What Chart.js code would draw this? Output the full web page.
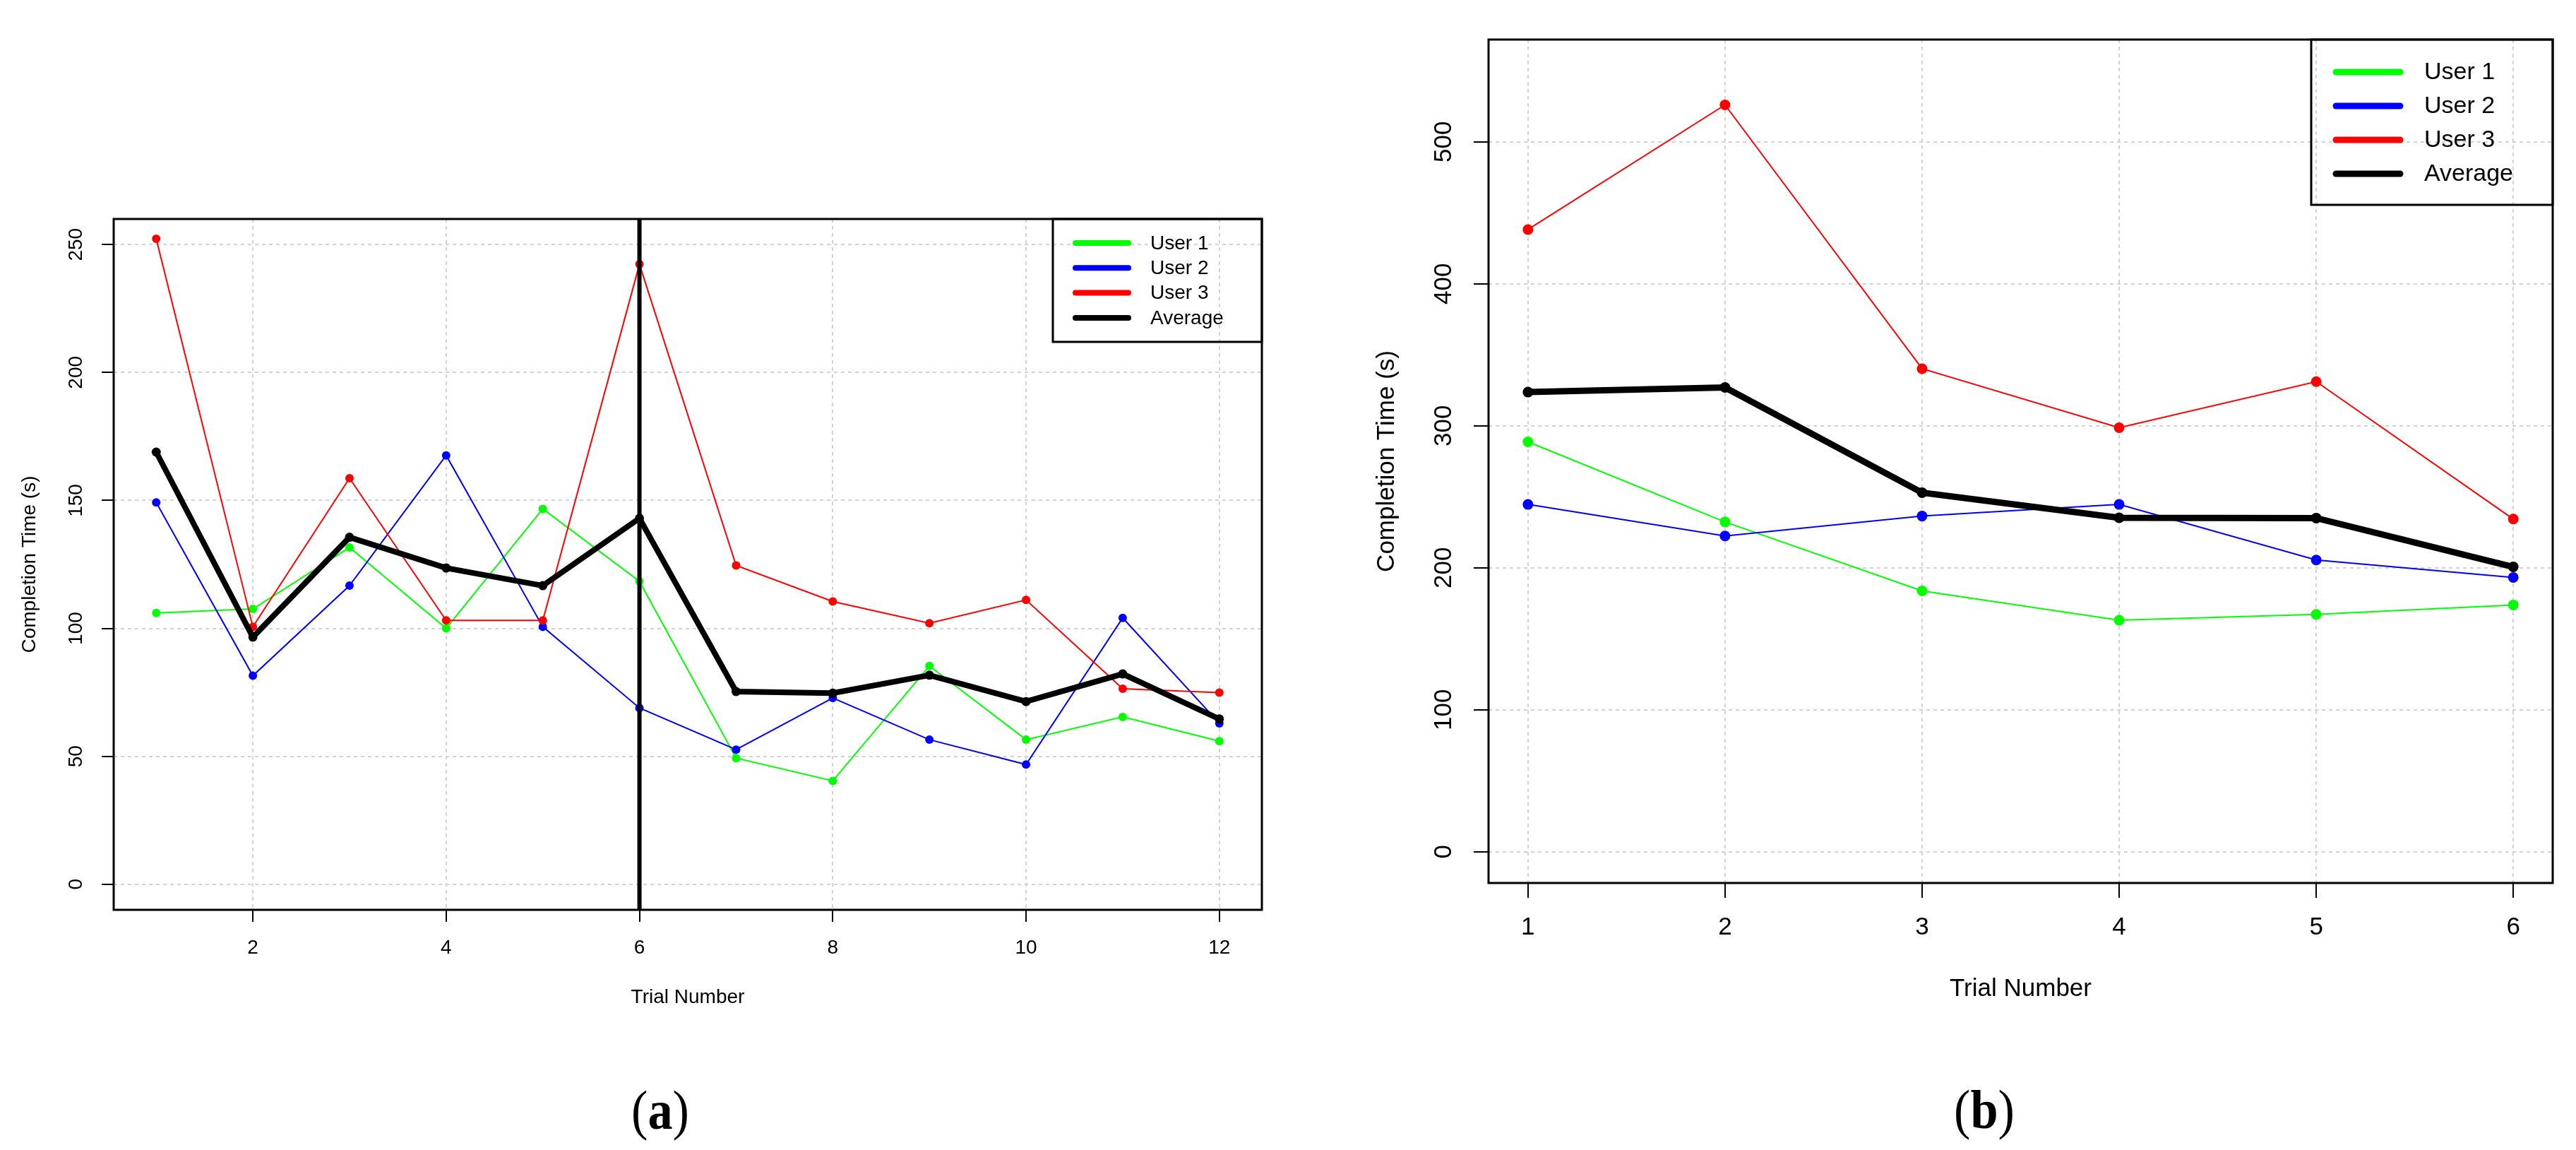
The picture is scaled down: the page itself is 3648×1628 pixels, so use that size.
<!DOCTYPE html>
<html>
<head>
<meta charset="utf-8">
<script src="https://cdn.jsdelivr.net/npm/chart.js@4.4.0/dist/chart.umd.min.js"></script>
<style>
  html, body { margin: 0; padding: 0; background: #fff; }
  #page { position: relative; width: 3648px; height: 1628px; overflow: hidden; background: #fff; }
  canvas { position: absolute; top: 0; }
  .cap { position: absolute; width: 300px; text-align: center; font-family: "Liberation Serif", "Times New Roman", serif;
         font-size: 78px; line-height: 78px; color: #000; transform: scaleX(0.9); }
  .cap b { font-weight: bold; }
</style>
</head>
<body>
<div id="page">
  <canvas id="chartA" width="1840" height="1628" style="left:0px"></canvas>
  <canvas id="chartB" width="1808" height="1628" style="left:1840px"></canvas>
  <div class="cap" style="left:785px; top:1533px">(<b>a</b>)</div>
  <div class="cap" style="left:2660px; top:1532px">(<b>b</b>)</div>
</div>
<script>
// ---- data, chart (a) ----
const trialsA = [1, 2, 3, 4, 5, 6, 7, 8, 9, 10, 11, 12];
const user1A = [106, 107.6, 131.6, 100, 146.7, 118.4, 49.3, 40.4, 85.3, 56.5, 65.4, 55.9];
const user2A = [149.2, 81.5, 116.7, 167.6, 100.6, 68.9, 52.6, 72.8, 56.5, 46.8, 104.1, 62.9];
const user3A = [252.3, 100.6, 158.7, 103.1, 103.1, 242.3, 124.6, 110.5, 102, 111.1, 76.4, 74.9];
const avgA = [168.9, 96.6, 135.6, 123.6, 116.7, 143, 75.3, 74.7, 81.7, 71.4, 82.2, 64.6];
const xTicksA = [2, 4, 6, 8, 10, 12];
const yTicksA = [0, 50, 100, 150, 200, 250];
const xRangeA = [0.56, 12.44];
const yRangeA = [-10, 260];
const markerTrialA = 6;

// ---- data, chart (b) ----
const trialsB = [1, 2, 3, 4, 5, 6];
const user1B = [288.7, 232.3, 183.7, 163.1, 167.2, 173.8];
const user2B = [244.6, 222.4, 236.4, 244.6, 205.5, 193.2];
const user3B = [438.2, 526, 340.2, 298.6, 331.1, 234.3];
const avgB = [323.7, 327, 252.9, 235.2, 235, 200.6];
const xTicksB = [1, 2, 3, 4, 5, 6];
const yTicksB = [0, 100, 200, 300, 400, 500];
const xRangeB = [0.8, 6.2];
const yRangeB = [-22, 572];

const seriesNames = ['User 1', 'User 2', 'User 3', 'Average'];
const seriesColors = ['#00ff00', '#0000ff', '#ff0000', '#000000'];

const SANS = '"Liberation Sans", Arial, sans-serif';

function toPoints(xs, ys) {
    return xs.map((x, i) => ({ x: x, y: ys[i] }));
}

// box, tick labels, axis titles, legend, optional vertical marker
const decorPlugin = {
    id: 'decor',
    afterDatasetsDraw(chart, args, o) {
        if (o.marker == null) return;
        const { ctx, chartArea: a, scales: { x } } = chart;
        const px = x.getPixelForValue(o.marker);
        ctx.save();
        ctx.strokeStyle = '#000';
        ctx.lineWidth = o.markerWidth;
        ctx.beginPath();
        ctx.moveTo(px, a.top);
        ctx.lineTo(px, a.bottom);
        ctx.stroke();
        ctx.restore();
    },
    afterDraw(chart, args, o) {
        const { ctx, chartArea: a, scales: { x, y } } = chart;
        ctx.save();
        ctx.strokeStyle = '#000';
        ctx.lineWidth = o.boxWidth;
        ctx.strokeRect(a.left, a.top, a.right - a.left, a.bottom - a.top);

        ctx.fillStyle = '#000';
        ctx.textAlign = 'center';
        ctx.textBaseline = 'middle';
        ctx.font = o.tickSize + 'px ' + SANS;
        o.yTicks.forEach(v => {
            ctx.save();
            ctx.translate(o.yLabelX, y.getPixelForValue(v));
            ctx.rotate(-Math.PI / 2);
            ctx.fillText(String(v), 0, 0);
            ctx.restore();
        });
        o.xTicks.forEach(v => ctx.fillText(String(v), x.getPixelForValue(v), o.xLabelY));

        ctx.font = o.titleSize + 'px ' + SANS;
        ctx.fillText('Trial Number', (a.left + a.right) / 2, o.xTitleY);
        ctx.save();
        ctx.translate(o.yTitleX, (a.top + a.bottom) / 2);
        ctx.rotate(-Math.PI / 2);
        ctx.fillText('Completion Time (s)', 0, 0);
        ctx.restore();

        // legend (transparent box in the top right corner)
        const L = o.legend;
        const left = a.right - L.w;
        ctx.lineWidth = o.boxWidth;
        ctx.strokeRect(left, a.top, L.w, L.h);
        ctx.textAlign = 'left';
        ctx.font = L.size + 'px ' + SANS;
        ctx.lineCap = 'round';
        chart.data.datasets.forEach((ds, i) => {
            const ry = a.top + L.first + i * L.step;
            ctx.strokeStyle = ds.borderColor;
            ctx.lineWidth = L.lineWidth;
            ctx.beginPath();
            ctx.moveTo(left + L.x1, ry);
            ctx.lineTo(left + L.x2, ry);
            ctx.stroke();
            ctx.fillText(ds.label, left + L.tx, ry + 1);
        });
        ctx.restore();
    }
};

function makeChart(id, c) {
    const canvas = document.getElementById(id);
    const H = canvas.height;
    const datasets = c.series.map((ys, i) => {
        const isAvg = i === 3;
        return {
            label: seriesNames[i],
            data: toPoints(c.trials, ys),
            borderColor: seriesColors[i],
            backgroundColor: seriesColors[i],
            pointBackgroundColor: seriesColors[i],
            pointBorderWidth: 0,
            pointRadius: isAvg ? c.avgPoint : c.point,
            borderWidth: isAvg ? c.avgLine : c.line,
            tension: 0,
            order: 3 - i
        };
    });
    const grid = {
        color: '#d3d3d3',
        lineWidth: 2,
        tickColor: '#000',
        tickWidth: 2,
        tickBorderDash: [],
        drawTicks: true
    };
    return new Chart(canvas, {
        type: 'line',
        data: { datasets: datasets },
        options: {
            responsive: false,
            animation: false,
            devicePixelRatio: 1,
            layout: { padding: { top: c.top, right: canvas.width - c.right, left: 0, bottom: 0 } },
            plugins: {
                legend: { display: false },
                tooltip: { enabled: false },
                decor: c.decor
            },
            scales: {
                x: {
                    type: 'linear',
                    min: c.xRange[0], max: c.xRange[1],
                    afterBuildTicks: s => { s.ticks = c.xTicks.map(v => ({ value: v })); },
                    afterFit: s => { s.height = H - c.bottom; },
                    ticks: { display: false },
                    grid: Object.assign({}, grid, { tickLength: c.tickLen }),
                    border: { display: false, dash: [5, 5] }
                },
                y: {
                    type: 'linear',
                    min: c.yRange[0], max: c.yRange[1],
                    afterBuildTicks: s => { s.ticks = c.yTicks.map(v => ({ value: v })); },
                    afterFit: s => { s.width = c.left; },
                    ticks: { display: false },
                    grid: Object.assign({}, grid, { tickLength: c.tickLen }),
                    border: { display: false, dash: [5, 5] }
                }
            }
        },
        plugins: [decorPlugin]
    });
}

makeChart('chartA', {
    trials: trialsA,
    series: [user1A, user2A, user3A, avgA],
    xTicks: xTicksA, yTicks: yTicksA, xRange: xRangeA, yRange: yRangeA,
    left: 161, right: 1787, top: 310, bottom: 1288,
    tickLen: 17, point: 6, avgPoint: 6.5, line: 2, avgLine: 8,
    decor: {
        xTicks: xTicksA, yTicks: yTicksA,
        marker: markerTrialA, markerWidth: 6, boxWidth: 3,
        tickSize: 28, titleSize: 28,
        yLabelX: 108, xLabelY: 1342, xTitleY: 1412, yTitleX: 42,
        legend: { w: 296, h: 174, first: 34, step: 35.3, x1: 32, x2: 107, tx: 138, size: 28, lineWidth: 8 }
    }
});

makeChart('chartB', {
    trials: trialsB,
    series: [user1B, user2B, user3B, avgB],
    xTicks: xTicksB, yTicks: yTicksB, xRange: xRangeB, yRange: yRangeB,
    left: 268, right: 1775, top: 56, bottom: 1250,
    tickLen: 21, point: 7.5, avgPoint: 7.5, line: 2, avgLine: 9,
    decor: {
        xTicks: xTicksB, yTicks: yTicksB,
        marker: null, markerWidth: 0, boxWidth: 3,
        tickSize: 35, titleSize: 35,
        yLabelX: 205, xLabelY: 1313, xTitleY: 1400, yTitleX: 124,
        legend: { w: 342, h: 234, first: 46, step: 48, x1: 35, x2: 126, tx: 160, size: 34, lineWidth: 9 }
    }
});
</script>
</body>
</html>
